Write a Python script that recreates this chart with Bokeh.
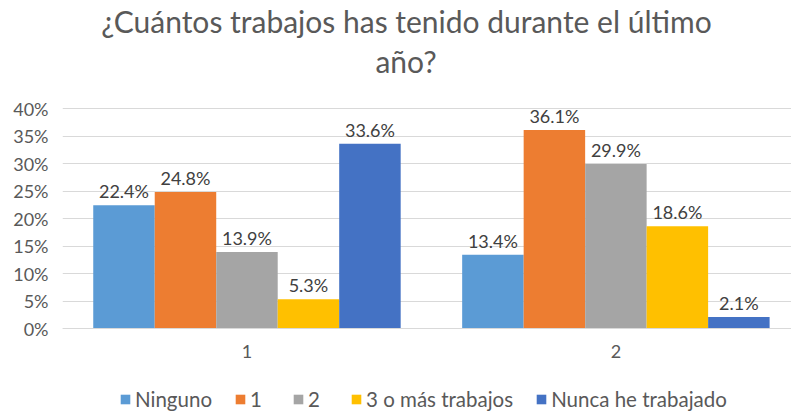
from bokeh.plotting import figure
from bokeh.models import (ColumnDataSource, FixedTicker, NumeralTickFormatter, Label,
                          Legend, LegendItem, Range1d)
from bokeh.transform import dodge
from bokeh.core.properties import value
from bokeh.embed import file_html
from bokeh.resources import INLINE

# ---- data ----
title_lines = ["¿Cuántos trabajos has tenido durante el último", "año?"]
groups = ["1", "2"]
group_pos = [0.5, 1.5]
series_names = ["Ninguno", "1", "2", "3 o más trabajos", "Nunca he trabajado"]
ninguno = [0.224, 0.134]
uno = [0.248, 0.361]
dos = [0.139, 0.299]
tres_mas = [0.053, 0.186]
nunca = [0.336, 0.021]
y_ticks = [0.0, 0.05, 0.10, 0.15, 0.20, 0.25, 0.30, 0.35, 0.40]

colors = ["#5B9BD5", "#ED7D31", "#A5A5A5", "#FFC000", "#4472C4"]
FONT = "Lato"

series_vals = [ninguno, uno, dos, tres_mas, nunca]
keys = ["s0", "s1", "s2", "s3", "s4"]
data = {"x": group_pos}
for k, v in zip(keys, series_vals):
    data[k] = v
    data[k + "_lbl"] = [f"{x*100:.1f}%" for x in v]
src = ColumnDataSource(data)

# the frame spans the full height so that title and legend can live inside it
p = figure(width=791, height=411, output_backend="svg", toolbar_location=None,
           x_range=Range1d(0, 1.976), y_range=Range1d(-0.1509, 0.5964),
           min_border_left=62, min_border_right=0, min_border_top=0,
           min_border_bottom=0)
p.outline_line_color = None
p.background_fill_color = "white"

bw = 1.0 / 6
renderers = []
for i, k in enumerate(keys):
    off = (i - 2) * bw
    r = p.vbar(x=dodge("x", off, range=p.x_range), top=k, width=bw, source=src,
               fill_color=colors[i], line_color=None)
    renderers.append(r)
    p.text(x=dodge("x", off, range=p.x_range), y=k, text=k + "_lbl", source=src,
           text_align="center", text_baseline="bottom", y_offset=-3,
           text_font=value(FONT), text_font_size="18px", text_color="#404040")

# title, two centred lines
p.add_layout(Label(text=title_lines[0], x=344, y=391, x_units="screen", y_units="screen",
                   text_align="center", text_baseline="alphabetic", text_font=FONT,
                   text_font_size="30px", text_color="#595959"))
p.add_layout(Label(text=title_lines[1], x=343.5, y=351, x_units="screen", y_units="screen",
                   text_align="center", text_baseline="alphabetic", text_font=FONT,
                   text_font_size="30px", text_color="#595959"))

# axes
p.yaxis.ticker = FixedTicker(ticks=y_ticks)
p.yaxis.formatter = NumeralTickFormatter(format="0%")
p.yaxis.axis_line_color = None
p.yaxis.major_tick_line_color = None
p.yaxis.minor_tick_line_color = None
p.yaxis.major_label_standoff = 8
p.yaxis.major_label_text_font = FONT
p.yaxis.major_label_text_font_size = "18px"
p.yaxis.major_label_text_color = "#595959"

p.xaxis.fixed_location = 0
p.xaxis.ticker = FixedTicker(ticks=group_pos)
p.xaxis.major_label_overrides = {gp: g for gp, g in zip(group_pos, groups)}
p.xaxis.axis_line_color = "#D9D9D9"
p.xaxis.major_tick_line_color = None
p.xaxis.minor_tick_line_color = None
p.xaxis.major_label_standoff = 10
p.xaxis.major_label_text_font = FONT
p.xaxis.major_label_text_font_size = "18px"
p.xaxis.major_label_text_color = "#595959"

p.xgrid.grid_line_color = None
p.ygrid.grid_line_color = "#D9D9D9"
p.ygrid.ticker = FixedTicker(ticks=y_ticks)

legend = Legend(items=[LegendItem(label=n, renderers=[r]) for n, r in zip(series_names, renderers)],
                orientation="horizontal", location=(57, 0),
                glyph_width=12, glyph_height=12, label_standoff=4, spacing=22,
                padding=0, margin=0, border_line_color=None, background_fill_alpha=0,
                label_text_font=FONT, label_text_font_size="20.5px", label_text_color="#595959")
p.add_layout(legend, "center")

open("out.html", "w").write(file_html(p, INLINE))
